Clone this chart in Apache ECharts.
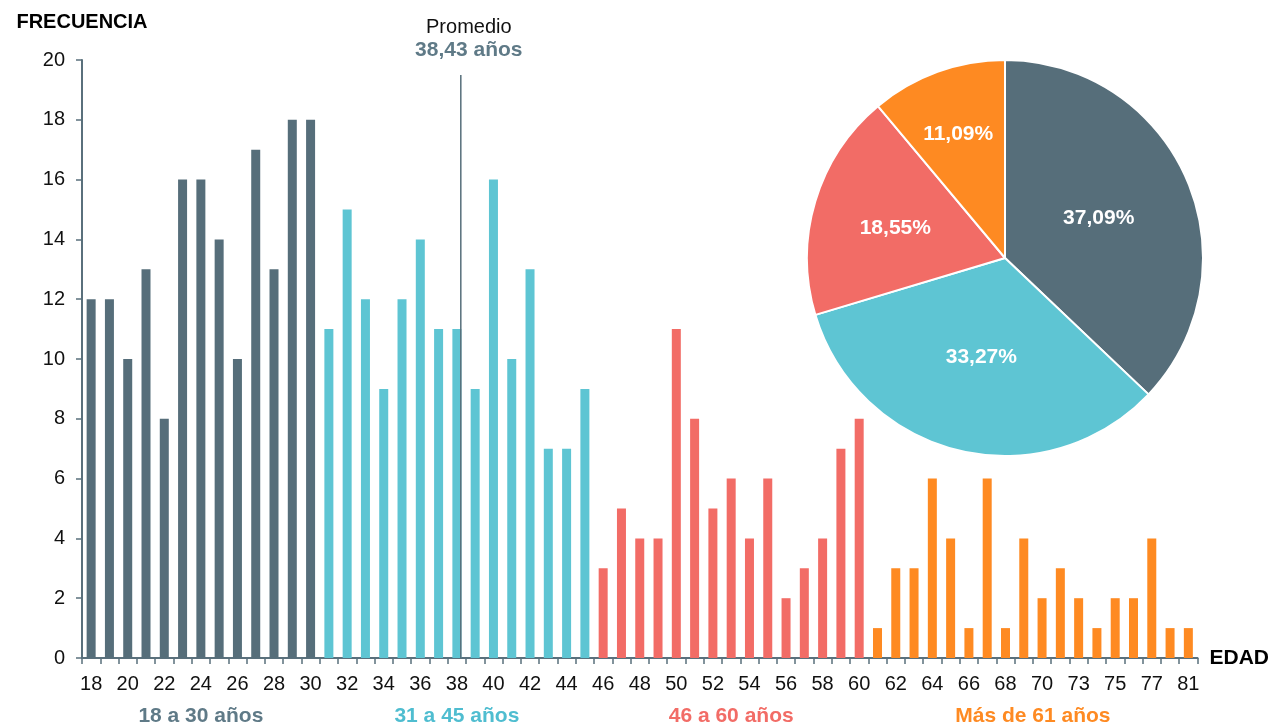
<!DOCTYPE html>
<html>
<head>
<meta charset="utf-8">
<script src="https://cdn.jsdelivr.net/npm/echarts@6/dist/echarts.min.js"></script>
<style>
  html, body { margin: 0; padding: 0; background: #fff; }
  #chart { width: 1272px; height: 727px; }
</style>
</head>
<body>
<div id="chart"></div>
<script>
// edades (categorias del eje x) y frecuencias
var ages = [18,19,20,21,22,23,24,25,26,27,28,29,30,
  31,32,33,34,35,36,37,38,39,40,41,42,43,44,45,
  46,47,48,49,50,51,52,53,54,55,56,57,58,59,60,
  61,62,63,64,65,66,67,68,69,70,71,73,74,75,76,77,79,81];
var freq = [12,12,10,13,8,16,16,14,10,17,13,18,18,
  11,15,12,9,12,14,11,11,9,16,10,13,7,7,9,
  3,5,4,4,11,8,5,6,4,6,2,3,4,7,8,
  1,3,3,6,4,1,6,1,4,2,3,2,1,2,2,4,1,1];
// grupos de edad: nombre, primera y ultima edad
var groupNames = ['18 a 30 años', '31 a 45 años', '46 a 60 años', 'Más de 61 años'];
var groupFrom = [18, 31, 46, 61];
var groupTo = [30, 45, 60, 81];
var groupColors = ['#566e7a', '#5ec5d3', '#f26c66', '#fe8a22'];
var groupTextColors = ['#5f7a87', '#4fbdd0', '#f26c66', '#fe8a22'];
var piePct = [37.09, 33.27, 18.55, 11.09];
var mean = 38.43;
var yTicks = { min: 0, max: 20, interval: 2 };

function groupOf(age) {
  for (var g = 0; g < groupFrom.length; g++) {
    if (age >= groupFrom[g] && age <= groupTo[g]) return g;
  }
  return 0;
}

var barData = freq.map(function (v, i) {
  return { value: v, itemStyle: { color: groupColors[groupOf(ages[i])] } };
});

// posicion del promedio sobre el eje de indices
var meanIdx = ages.indexOf(Math.floor(mean)) + 0.5 + (mean - Math.floor(mean)) / 2;

var axisColor = '#5a707c';
var font = 'Liberation Sans, Arial, sans-serif';
// los rotulos de las porciones chicas van algo mas afuera
var pieLabelShift = [[0, 0], [0, 0], [-12, -1], [-12, -28]];

var mychart = echarts.init(document.getElementById('chart'));
var option = {
  animation: false,
  textStyle: { fontFamily: font },
  grid: { left: 82, right: 70, top: 60, bottom: 69, containLabel: false },
  xAxis: [{
    type: 'category',
    data: ages,
    name: 'EDAD',
    nameLocation: 'end',
    nameGap: 12,
    nameTextStyle: { color: '#000', fontSize: 21, fontWeight: 'bold', fontFamily: font, verticalAlign: 'middle' },
    axisLine: { lineStyle: { color: axisColor, width: 2 } },
    axisTick: { show: true, interval: 0, length: 6, lineStyle: { color: axisColor, width: 1.5 } },
    axisLabel: { interval: 1, color: '#111', fontSize: 20, margin: 16, fontFamily: font }
  }, {
    type: 'value',
    min: 0,
    max: ages.length,
    show: false
  }],
  yAxis: {
    type: 'value',
    min: yTicks.min,
    max: yTicks.max,
    interval: yTicks.interval,
    name: 'FRECUENCIA',
    nameLocation: 'end',
    nameGap: 28,
    nameTextStyle: { color: '#000', fontSize: 20, fontWeight: 'bold', fontFamily: font, align: 'center' },
    splitLine: { show: false },
    axisLine: { show: true, lineStyle: { color: axisColor, width: 2 } },
    axisTick: { show: true, length: 6, lineStyle: { color: axisColor, width: 1.5 } },
    axisLabel: { color: '#111', fontSize: 20, margin: 17, fontFamily: font }
  },
  series: [{
    type: 'bar',
    data: barData,
    barWidth: 9,
    silent: true
  }, {
    type: 'line',
    xAxisIndex: 1,
    data: [[meanIdx, 0], [meanIdx, 19.5]],
    symbol: 'none',
    lineStyle: { color: '#566e7a', width: 1.5 },
    silent: true,
    z: 5
  }, {
    type: 'pie',
    center: [1005, 258],
    radius: 198,
    startAngle: 90,
    clockwise: true,
    silent: true,
    data: piePct.map(function (v, i) {
      return {
        value: v, name: groupNames[i],
        itemStyle: { color: groupColors[i] },
        label: { offset: pieLabelShift[i] }
      };
    }),
    itemStyle: { borderColor: '#fff', borderWidth: 2 },
    label: {
      show: true,
      position: 'inside',
      color: '#fff',
      fontSize: 21,
      fontWeight: 'bold',
      fontFamily: font,
      formatter: function (p) { return p.value.toFixed(2).replace('.', ',') + '%'; }
    },
    labelLine: { show: false }
  }]
};
mychart.setOption(option);

// etiquetas de grupos y del promedio
var graphics = [];
for (var g = 0; g < groupNames.length; g++) {
  var a = ages.indexOf(groupFrom[g]);
  var b = ages.indexOf(groupTo[g]);
  var mid = (a + b + 1) / 2;
  var px = mychart.convertToPixel({ xAxisIndex: 1 }, mid);
  graphics.push({
    type: 'text',
    x: px, y: 716,
    style: {
      text: groupNames[g], fill: groupTextColors[g],
      font: 'bold 21px ' + font, align: 'center', verticalAlign: 'middle'
    }
  });
}
var mx = mychart.convertToPixel({ xAxisIndex: 1 }, meanIdx);
graphics.push({
  type: 'text', x: mx + 8, y: 27,
  style: { text: 'Promedio', fill: '#111', font: '20px ' + font, align: 'center', verticalAlign: 'middle' }
});
graphics.push({
  type: 'text', x: mx + 8, y: 50,
  style: { text: mean.toFixed(2).replace('.', ',') + ' años', fill: '#5f7a87', font: 'bold 21px ' + font, align: 'center', verticalAlign: 'middle' }
});
mychart.setOption({ graphic: graphics });
</script>
</body>
</html>
